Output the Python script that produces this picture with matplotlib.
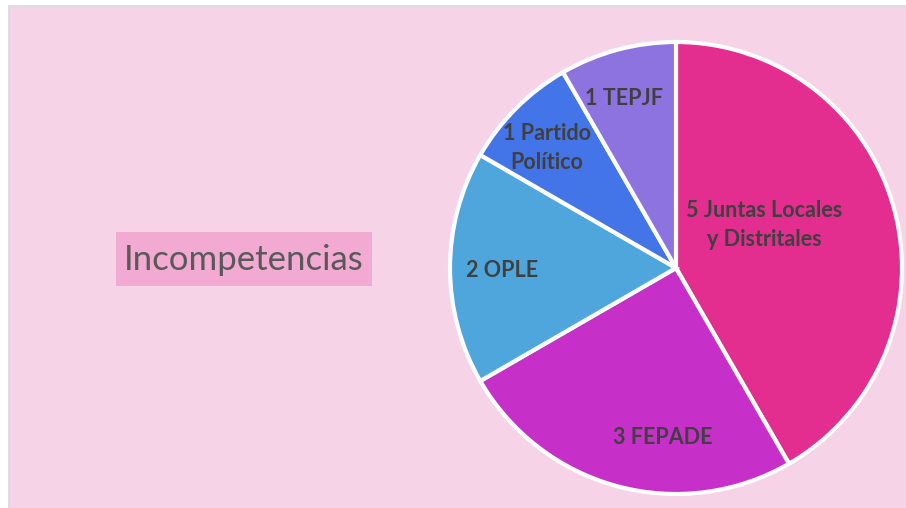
import matplotlib
matplotlib.use("Agg")
import matplotlib.pyplot as plt
from matplotlib.patches import Rectangle

# data
labels = ["5 Juntas Locales\ny Distritales", "3 FEPADE", "2 OPLE", "1 Partido\nPolítico", "1 TEPJF"]
values = [5, 3, 2, 1, 1]
colors = ["#E32D8F", "#C62FC8", "#4EA6DC", "#4374E8", "#8C73E0"]
title = "Incompetencias"

# label positions inside the pie (pie units, radius = 1)
label_pos = [(0.39, 0.19), (-0.06, -0.75), (-0.77, -0.01), (-0.57, 0.53), (-0.23, 0.75)]

W, H = 906, 508
fig = plt.figure(figsize=(W / 100, H / 100), dpi=100, facecolor="white")

# pink panel with a thin grey border
fig.patches.append(Rectangle((8.5 / W, -0.05), 1.1, 1 - 6.5 / H + 0.05,
                             transform=fig.transFigure, facecolor="#F7D3E8",
                             edgecolor="#D9D9D9", linewidth=1.2, zorder=-2))
# title box
fig.patches.append(Rectangle((116 / W, 1 - 286 / H), 256 / W, 54 / H,
                             transform=fig.transFigure, facecolor="#F2A9D2",
                             edgecolor="none", zorder=-1))

cx, cy, r = 676, 268, 226
ax = fig.add_axes([(cx - r) / W, 1 - (cy + r) / H, 2 * r / W, 2 * r / H])
wedges, _ = ax.pie(values, colors=colors, startangle=90, counterclock=False,
                   wedgeprops=dict(edgecolor="white", linewidth=3))
for w in wedges:
    w.set_clip_on(False)
ax.set_xlim(-1, 1)
ax.set_ylim(-1, 1)
ax.set_aspect("auto")
ax.axis("off")

for txt, (x, y) in zip(labels, label_pos):
    ax.text(x, y, txt, ha="center", va="center", fontsize=15.5, fontweight="bold",
            family="Lato", color="#404040", linespacing=1.45)

fig.text(244 / W, 1 - 260 / H, title, ha="center", va="center", fontsize=25,
         family="Lato", color="#595959")

fig.savefig("out.png", dpi=100, facecolor=fig.get_facecolor())
